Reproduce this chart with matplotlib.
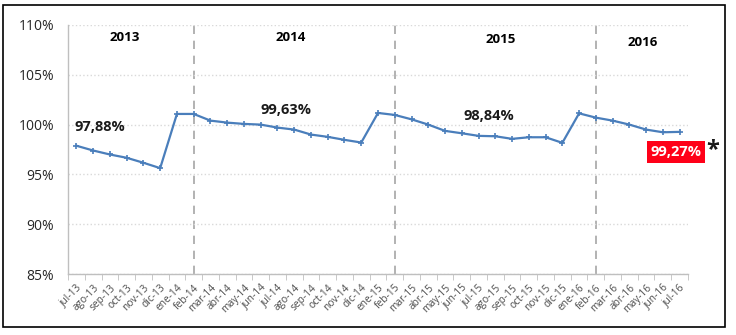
import matplotlib.pyplot as plt
from matplotlib.patches import Rectangle

months = ["jul-13", "ago-13", "sep-13", "oct-13", "nov-13", "dic-13",
          "ene-14", "feb-14", "mar-14", "abr-14", "may-14", "jun-14",
          "jul-14", "ago-14", "sep-14", "oct-14", "nov-14", "dic-14",
          "ene-15", "feb-15", "mar-15", "abr-15", "may-15", "jun-15",
          "jul-15", "ago-15", "sep-15", "oct-15", "nov-15", "dic-15",
          "ene-16", "feb-16", "mar-16", "abr-16", "may-16", "jun-16",
          "jul-16"]
values = [97.88, 97.4, 97.0, 96.67, 96.17, 95.63,
          101.07, 101.07, 100.4, 100.2, 100.07, 100.0,
          99.7, 99.5, 99.0, 98.77, 98.47, 98.2,
          101.17, 100.97, 100.53, 100.0, 99.37, 99.13,
          98.87, 98.83, 98.57, 98.73, 98.73, 98.17,
          101.13, 100.7, 100.4, 100.0, 99.5, 99.23,
          99.27]
year_breaks = ["feb-14", "feb-15", "feb-16"]
years = ["2013", "2014", "2015", "2016"]
year_label_x = [2.9, 12.8, 25.3, 33.8]
year_label_y = [108.7, 108.7, 108.5, 108.2]
averages = ["97,88%", "99,63%", "98,84%"]
avg_x = [1.4, 12.5, 24.6]
avg_y = [99.8, 101.5, 100.85]
last_label = "99,27%"

plt.rcParams["font.family"] = ["Open Sans", "DejaVu Sans"]

fig = plt.figure(figsize=(7.36, 3.35), dpi=100)
ax = fig.add_axes([0.0924, 0.182, 0.8424, 0.7434])

x = list(range(len(months)))
ax.plot(x, values, color="#4a7ebb", lw=1.6, marker="+", markersize=4,
        mew=1.2, zorder=3)

for m in year_breaks:
    ax.axvline(months.index(m), color="#a6a6a6", lw=1.2,
               linestyle=(0, (5, 4)), zorder=1)

ax.set_ylim(85, 110)
ax.set_yticks([85, 90, 95, 100, 105, 110])
ax.set_yticklabels(["85%", "90%", "95%", "100%", "105%", "110%"])
ax.set_xlim(-0.5, len(months) - 0.5)
ax.set_xticks(x)
ax.set_xticklabels(months, rotation=45, ha="right", rotation_mode="anchor",
                   fontsize=7.3, color="#4d4d4d")
ax.set_xticks([i - 0.5 for i in range(len(months) + 1)], minor=True)
ax.tick_params(axis="x", which="major", length=0, pad=6)
ax.tick_params(axis="x", which="minor", length=4, color="#bfbfbf", direction="out")
ax.tick_params(axis="y", length=0, labelsize=10, colors="#262626", pad=10)

ax.grid(axis="y", color="#d9d9d9", linestyle=":", lw=1.0, zorder=0)
for s in ["top", "right"]:
    ax.spines[s].set_visible(False)
for s in ["left", "bottom"]:
    ax.spines[s].set_color("#bfbfbf")
    ax.spines[s].set_linewidth(1.0)

for yr, xx, yy in zip(years, year_label_x, year_label_y):
    ax.text(xx, yy, yr, ha="center", va="center", fontsize=9.5,
            fontweight="bold", color="black")
for lab, xx, yy in zip(averages, avg_x, avg_y):
    ax.text(xx, yy, lab, ha="center", va="center", fontsize=10.5,
            fontweight="bold", color="#1a1a1a")

ax.text(35.8, 97.25, last_label, ha="center", va="center", fontsize=10.5,
        fontweight="bold", color="white", clip_on=False,
        bbox=dict(boxstyle="square,pad=0.25", facecolor="#ff0018",
                  edgecolor="none"))
ax.text(38.0, 97.4, "*", ha="center", va="center", fontsize=17,
        fontweight="bold", color="#1a1a1a", clip_on=False)

fig.patches.append(Rectangle((3 / 736, 1 - 327 / 335), 722 / 736, 322 / 335,
                             transform=fig.transFigure, fill=False,
                             edgecolor="black", lw=1.2))

fig.savefig("out.png", dpi=100)
